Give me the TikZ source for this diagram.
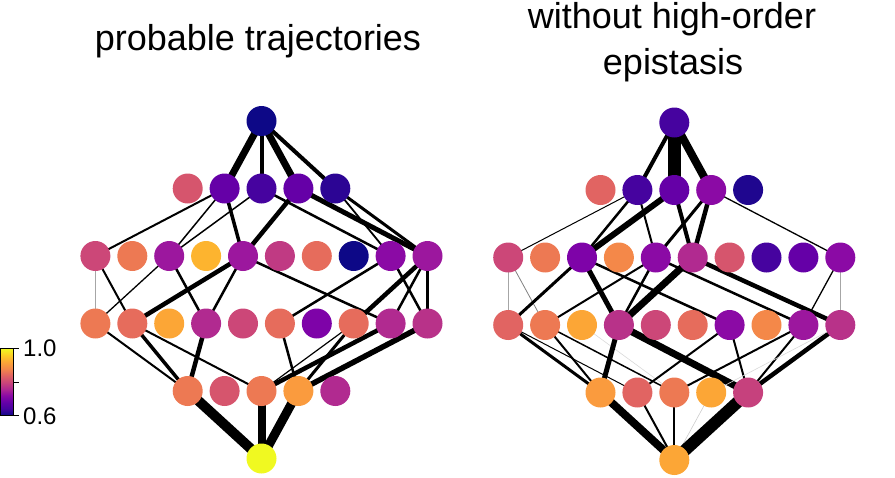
\documentclass[tikz,border=0pt]{standalone}
\usepackage{fontspec}
\setmainfont{Liberation Sans}
\usepackage{tikz}

\definecolor{pl00}{HTML}{0D0887}
\definecolor{pl03}{HTML}{1F068F}
\definecolor{pl05}{HTML}{2C0594}
\definecolor{pl10}{HTML}{46039F}
\definecolor{pl20}{HTML}{6500A7}
\definecolor{pl25}{HTML}{7E03A8}
\definecolor{pl30}{HTML}{8B0AA5}
\definecolor{pl35}{HTML}{9C179E}
\definecolor{pl40}{HTML}{B12A90}
\definecolor{pl42}{HTML}{B83289}
\definecolor{pl45}{HTML}{C03A83}
\definecolor{pl47}{HTML}{C6417D}
\definecolor{pl50}{HTML}{CC4778}
\definecolor{pl55}{HTML}{D6556D}
\definecolor{pl60}{HTML}{E16462}
\definecolor{pl62}{HTML}{E66C5C}
\definecolor{pl66}{HTML}{ED7953}
\definecolor{pl72}{HTML}{F48849}
\definecolor{pl78}{HTML}{FA9B3E}
\definecolor{pl82}{HTML}{FCA636}
\definecolor{pl86}{HTML}{FDB42F}
\definecolor{pl90}{HTML}{FCCE25}
\definecolor{pl100}{HTML}{F0F921}

\pgfdeclareverticalshading{plasma}{100bp}{color(0bp)=(pl00); color(25bp)=(pl00);
  color(30bp)=(pl10); color(35bp)=(pl20); color(40bp)=(pl30); color(45bp)=(pl40);
  color(50bp)=(pl50); color(55bp)=(pl60); color(60bp)=(pl72); color(65bp)=(pl82);
  color(70bp)=(pl90); color(75bp)=(pl100); color(100bp)=(pl100)}

\pgfdeclarelayer{edges}
\pgfsetlayers{edges,main}

\begin{document}
\begin{tikzpicture}[x=1pt,y=-1pt,
  gt/.style={circle,minimum size=30pt,inner sep=0pt},
  ttl/.style={anchor=base,inner sep=0pt,font=\fontsize{36}{44}\selectfont},
  cbl/.style={anchor=west,inner sep=0pt,font=\fontsize{24}{28}\selectfont}]
\useasboundingbox (0,0) rectangle (895,477);
\newcommand{\gtype}[4]{\node [gt,fill=#4] (#1) at (#2,#3) {};}
\newcommand{\lnk}[3]{\draw [line width=#3pt] (#1.center)--(#2.center);}
\newcommand{\glnk}[4]{\draw [line width=#3pt,black!#4] (#1.center)--(#2.center);}

% titles
\node [ttl] (ltitle) at (258,50) {probable trajectories};
\node [ttl] (rtitle) at (672,28) {without high-order};
\node [ttl] (rtitleb) at (673,74) {epistasis};

% colour bar
\shadedraw [shading=plasma,line width=1pt] (0.5,348.5) rectangle (13.5,415.5);
\draw [line width=1pt] (13.5,348.5)--(19,348.5);
\draw [line width=1pt] (13.5,382)--(19,382);
\draw [line width=1pt] (13.5,415.5)--(19,415.5);
\node [cbl] (cbtop) at (23,348) {1.0};
\node [cbl] (cbbot) at (23,416) {0.6};

% left panel
\gtype{lT}{261.5}{121}{pl00}
\gtype{la0}{187.7}{188.5}{pl55}
\gtype{la1}{224.6}{188.5}{pl20}
\gtype{la2}{261.5}{188.5}{pl10}
\gtype{la3}{298.4}{188.5}{pl20}
\gtype{la4}{335.3}{188.5}{pl05}
\gtype{lb0}{95.4}{256}{pl50}
\gtype{lb1}{132.3}{256}{pl66}
\gtype{lb2}{169.2}{256}{pl35}
\gtype{lb3}{206.1}{256}{pl86}
\gtype{lb4}{243.0}{256}{pl35}
\gtype{lb5}{279.9}{256}{pl45}
\gtype{lb6}{316.8}{256}{pl62}
\gtype{lb7}{353.7}{256}{pl00}
\gtype{lb8}{390.6}{256}{pl30}
\gtype{lb9}{427.5}{256}{pl35}
\gtype{lc0}{95.4}{323.5}{pl66}
\gtype{lc1}{132.3}{323.5}{pl62}
\gtype{lc2}{169.2}{323.5}{pl82}
\gtype{lc3}{206.1}{323.5}{pl40}
\gtype{lc4}{243.0}{323.5}{pl50}
\gtype{lc5}{279.9}{323.5}{pl62}
\gtype{lc6}{316.8}{323.5}{pl25}
\gtype{lc7}{353.7}{323.5}{pl62}
\gtype{lc8}{390.6}{323.5}{pl40}
\gtype{lc9}{427.5}{323.5}{pl42}
\gtype{ld0}{187.7}{391}{pl66}
\gtype{ld1}{224.6}{391}{pl55}
\gtype{ld2}{261.5}{391}{pl66}
\gtype{ld3}{298.4}{391}{pl78}
\gtype{ld4}{335.3}{391}{pl40}
\gtype{lB}{261.5}{458.5}{pl100}

% right panel
\gtype{rT}{674.3}{122.5}{pl10}
\gtype{ra0}{600.5}{190}{pl60}
\gtype{ra1}{637.4}{190}{pl10}
\gtype{ra2}{674.3}{190}{pl20}
\gtype{ra3}{711.2}{190}{pl30}
\gtype{ra4}{748.1}{190}{pl03}
\gtype{rb0}{508.2}{257.5}{pl50}
\gtype{rb1}{545.1}{257.5}{pl66}
\gtype{rb2}{582.0}{257.5}{pl25}
\gtype{rb3}{618.9}{257.5}{pl72}
\gtype{rb4}{655.8}{257.5}{pl30}
\gtype{rb5}{692.7}{257.5}{pl40}
\gtype{rb6}{729.6}{257.5}{pl55}
\gtype{rb7}{766.5}{257.5}{pl10}
\gtype{rb8}{803.4}{257.5}{pl20}
\gtype{rb9}{840.3}{257.5}{pl30}
\gtype{rc0}{508.2}{325}{pl60}
\gtype{rc1}{545.1}{325}{pl66}
\gtype{rc2}{582.0}{325}{pl82}
\gtype{rc3}{618.9}{325}{pl42}
\gtype{rc4}{655.8}{325}{pl50}
\gtype{rc5}{692.7}{325}{pl62}
\gtype{rc6}{729.6}{325}{pl30}
\gtype{rc7}{766.5}{325}{pl72}
\gtype{rc8}{803.4}{325}{pl35}
\gtype{rc9}{840.3}{325}{pl42}
\gtype{rd0}{600.5}{392.5}{pl78}
\gtype{rd1}{637.4}{392.5}{pl60}
\gtype{rd2}{674.3}{392.5}{pl66}
\gtype{rd3}{711.2}{392.5}{pl82}
\gtype{rd4}{748.1}{392.5}{pl47}
\gtype{rB}{674.3}{460}{pl82}

\begin{pgfonlayer}{edges}
% left panel, widths ~ flux
\lnk{lT}{la1}{7}\lnk{lT}{la2}{4}\lnk{lT}{la3}{7}\lnk{lT}{la4}{4}
\lnk{la1}{lb0}{2}\lnk{la1}{lb2}{1.5}\lnk{la2}{lb2}{1.5}
\lnk{la1}{lb4}{3.5}\lnk{la3}{lb4}{4.5}\lnk{la2}{lb8}{2.5}
\lnk{la3}{lb9}{5}\lnk{la4}{lb9}{3}\lnk{la4}{lb8}{1.8}
\glnk{lb0}{lc0}{1.5}{35}
\lnk{lb0}{lc1}{2}\lnk{lb2}{lc0}{1.3}\lnk{lb2}{lc3}{2.5}
\lnk{lb4}{lc1}{4.5}\lnk{lb4}{lc3}{2.5}\lnk{lb4}{lc8}{2.5}
\lnk{lb8}{lc5}{2.5}\lnk{lb9}{lc7}{4.5}\lnk{lb9}{lc8}{2.5}
\lnk{lb8}{lc9}{2.5}\lnk{lb9}{lc9}{2.5}
\lnk{lc0}{ld0}{2}\lnk{lc1}{ld0}{3.5}\lnk{lc1}{ld2}{2}
\lnk{lc3}{ld0}{4.5}\lnk{lc5}{ld3}{2.5}\lnk{lc7}{ld2}{1.2}
\lnk{lc8}{ld2}{4.5}\lnk{lc7}{ld3}{3}\lnk{lc9}{ld3}{5.5}
\lnk{ld0}{lB}{10}\lnk{ld2}{lB}{8}\lnk{ld3}{lB}{9}
% right panel
\lnk{rT}{ra1}{4}\lnk{rT}{ra2}{13}\lnk{rT}{ra3}{8}
\lnk{ra1}{rb0}{1}\lnk{ra1}{rb2}{2.5}\lnk{ra2}{rb2}{6}
\lnk{ra1}{rb4}{2}\lnk{ra2}{rb5}{4}\lnk{ra3}{rb4}{3}
\lnk{ra3}{rb5}{4.5}\lnk{ra3}{rb9}{1.3}
\glnk{rb0}{rc0}{1}{35}\glnk{rb0}{rc1}{0.8}{50}
\lnk{rb2}{rc0}{3}\lnk{rb2}{rc3}{5}\lnk{rb2}{rc6}{2.5}
\lnk{rb4}{rc1}{2}\lnk{rb4}{rc3}{2.5}\lnk{rb5}{rc3}{7}
\lnk{rb4}{rc8}{2.5}\lnk{rb5}{rc9}{4.5}\lnk{rb9}{rc8}{1.3}
\glnk{rb9}{rc9}{1.5}{35}
\lnk{rc0}{rd0}{3}\lnk{rc0}{rd1}{1}\lnk{rc1}{rd0}{2}\lnk{rc1}{rd2}{1.5}
\glnk{rc2}{rd2}{0.6}{15}
\lnk{rc3}{rd0}{5}\lnk{rc3}{rd4}{7}
\lnk{rc6}{rd1}{2}\lnk{rc6}{rd4}{2}
\lnk{rc8}{rd2}{2}\lnk{rc8}{rd4}{2}\lnk{rc9}{rd4}{4.5}
\glnk{rc9}{rd3}{0.6}{15}
\lnk{rd0}{rB}{8}\lnk{rd1}{rB}{2}\lnk{rd2}{rB}{2}
\glnk{rd3}{rB}{0.6}{20}
\lnk{rd4}{rB}{12}
\end{pgfonlayer}
\end{tikzpicture}
\end{document}
